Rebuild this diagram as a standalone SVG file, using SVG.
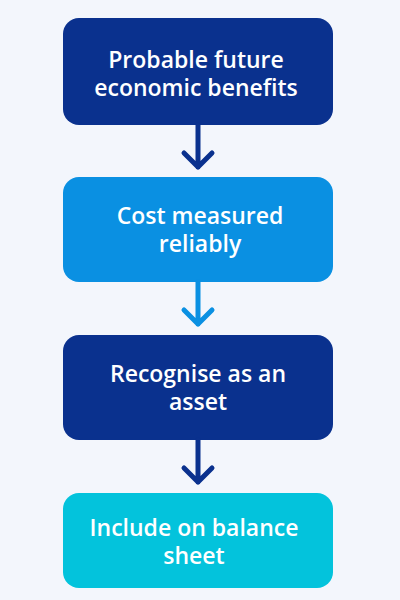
<svg xmlns="http://www.w3.org/2000/svg" width="400" height="600" viewBox="0 0 400 600">
<style>
.t{font-family:"Open Sans","Liberation Sans",sans-serif;font-size:23px;font-weight:600;fill:#ffffff;text-anchor:middle}
.a{fill:none;stroke-width:5;stroke-linecap:round;stroke-linejoin:round}
</style>
<rect width="400" height="600" fill="#f3f6fc"/>
<g id="n1"><rect x="63" y="18" width="270" height="107" rx="16" fill="#0a318e"/>
<text class="t" x="196" y="68">Probable future</text><text class="t" x="196" y="96">economic benefits</text></g>
<g id="n2"><rect x="63" y="177" width="270" height="105" rx="16" fill="#0a90e2"/>
<text class="t" x="200" y="224">Cost measured</text><text class="t" x="200" y="252">reliably</text></g>
<g id="n3"><rect x="63" y="335" width="270" height="105" rx="16" fill="#0a318e"/>
<text class="t" x="198" y="382">Recognise as an</text><text class="t" x="198" y="410">asset</text></g>
<g id="n4"><rect x="63" y="493" width="270" height="95" rx="16" fill="#03c3dc"/>
<text class="t" x="194" y="536">Include on balance</text><text class="t" x="194" y="564">sheet</text></g>
<g id="connectors">
<path class="a" stroke="#0a318e" d="M198 125V167M184 153L198 167L212 153"/>
<path class="a" stroke="#0a90e2" d="M198 282V324M184 310L198 324L212 310"/>
<path class="a" stroke="#0a318e" d="M198 440V482M184 468L198 482L212 468"/>
</g>
</svg>
